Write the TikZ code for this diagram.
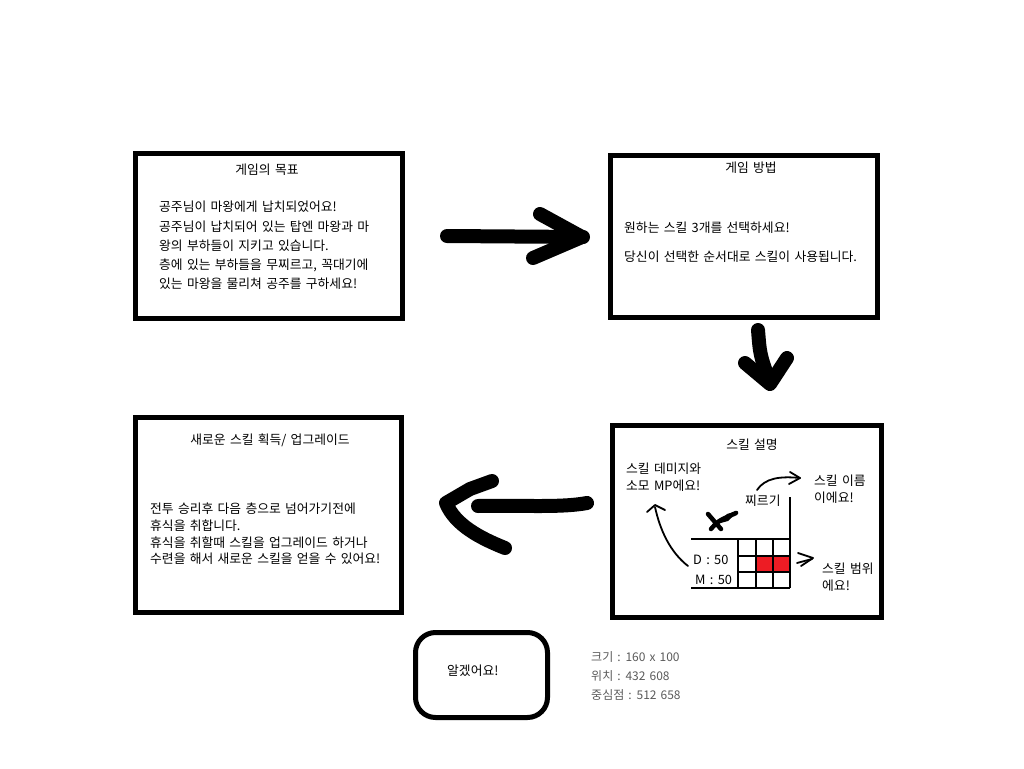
\documentclass[tikz,border=0pt]{standalone}
\usepackage{fontspec}
\setmainfont{Noto Sans CJK KR}[WordSpace=1.5]
\definecolor{paintred}{RGB}{237,28,36}
\definecolor{infogray}{RGB}{90,90,90}
\begin{document}
\begin{tikzpicture}[x=1pt,y=-1pt,
  panel/.style={draw=black, line width=5pt, anchor=north west, inner sep=0pt, outer sep=0pt},
  txt/.style={inner sep=0pt, align=left, font=\fontsize{12.8}{19.25}\selectfont},
  bigarrow/.style={line width=14pt, line cap=round, line join=round},
  pen/.style={line width=1.8pt, line cap=round, line join=round},
  grid/.style={line width=1.2pt}]
\useasboundingbox (0,0) rectangle (1024,768);
% panels
\node[panel, minimum width=267pt, minimum height=165pt] (goal) at (135.5,153.5) {};
\node[panel, minimum width=267pt, minimum height=162pt] (howto) at (610.5,155.5) {};
\node[panel, minimum width=269pt, minimum height=192pt] (skill) at (612.5,425.5) {};
\node[panel, minimum width=266pt, minimum height=195pt] (upgrade) at (135.5,417) {};
\node[panel, minimum width=132pt, minimum height=85pt, rounded corners=20pt] (ok) at (415.5,632.5) {};
% goal texts
\node[txt] (goalT) at (267,170) {게임의 목표};
\node[txt, anchor=west] (goalB) at (159,245.5) {공주님이 마왕에게 납치되었어요!\\공주님이 납치되어 있는 탑엔 마왕과 마\\왕의 부하들이 지키고 있습니다.\\층에 있는 부하들을 무찌르고, 꼭대기에\\있는 마왕을 물리쳐 공주를 구하세요!};
% howto texts
\node[txt] (howT) at (751,168) {게임 방법};
\node[txt, anchor=west] (how1) at (624,227.5) {원하는 스킬 3개를 선택하세요!};
\node[txt, anchor=west] (how2) at (624,256.5) {당신이 선택한 순서대로 스킬이 사용됩니다.};
% skill texts
\node[txt] (skT) at (752,445) {스킬 설명};
\node[txt, anchor=west, font=\fontsize{12.8}{16.5}\selectfont] (skDmg) at (626,477) {스킬 데미지와\\소모 MP에요!};
\node[txt, anchor=west, font=\fontsize{12.8}{17}\selectfont] (skName) at (814,489) {스킬 이름\\이에요!};
\node[txt, anchor=west] (skStab) at (745,501) {찌르기};
\node[txt, anchor=west, font=\fontsize{12.8}{17}\selectfont] (skRange) at (822,577) {스킬 범위\\에요!};
\node[txt, anchor=west] (skD) at (693,560) {D : 50};
\node[txt, anchor=west] (skM) at (695,580) {M : 50};
% skill grid
\fill[paintred] (756,556) rectangle (790,572);
\draw[grid] (691,539) -- (790,539);
\draw[grid] (790,497) -- (790,588);
\draw[grid] (691,588) -- (790,588);
\draw[grid] (738,539) -- (738,588);
\draw[grid] (756,539) -- (756,588);
\draw[grid] (773,539) -- (773,588);
\draw[grid] (738,556) -- (790,556);
\draw[grid] (738,572) -- (790,572);
% sword mark
\draw[line width=4.5pt, line cap=round] (708,514) -- (721,529);
\draw[line width=4.5pt, line cap=round] (711,529) .. controls (718,521) .. (736,513);
\fill (717,524) -- (727,514) -- (738,511) -- (728,521) -- cycle;
% pen arrows
\draw[pen] (688,566) .. controls (670,552) and (660,530) .. (655,507);
\draw[pen] (647,512) -- (655,505) -- (665,510);
\draw[pen] (757,490) .. controls (765,478) and (780,476) .. (800,478);
\draw[pen] (790,472) -- (800,478) -- (789,484);
\draw[pen] (798,553) -- (813,558) -- (801,566);
\draw[pen] (797,563) -- (812,559);
% upgrade texts
\node[txt] (upT) at (270,440) {새로운 스킬 획득/ 업그레이드};
\node[txt, anchor=west, font=\fontsize{12.8}{16.7}\selectfont] (upB) at (150,534) {전투 승리후 다음 층으로 넘어가기전에\\휴식을 취합니다.\\휴식을 취할때 스킬을 업그레이드 하거나\\수련을 해서 새로운 스킬을 얻을 수 있어요!};
% ok button
\node[txt, anchor=west] (okT) at (447,671) {알겠어요!};
\node[txt, anchor=west, text=infogray, font=\fontsize{12}{19}\selectfont] (info) at (591,676) {크기 : 160 x 100\\위치 : 432 608\\중심점 : 512 658};
% big arrows
\draw[bigarrow] (447,236) -- (583,237);
\draw[bigarrow] (540,214) -- (582,237) -- (533,258);
\draw[bigarrow] (758,330) .. controls (760,355) .. (770,383);
\draw[bigarrow] (745,363) -- (770,384) -- (787,358);
\draw[bigarrow] (587,503) .. controls (560,508) and (520,505) .. (478,506);
\draw[bigarrow] (492,481) -- (470,489) -- (446,503) .. controls (455,525) and (480,538) .. (505,548);
\end{tikzpicture}
\end{document}
